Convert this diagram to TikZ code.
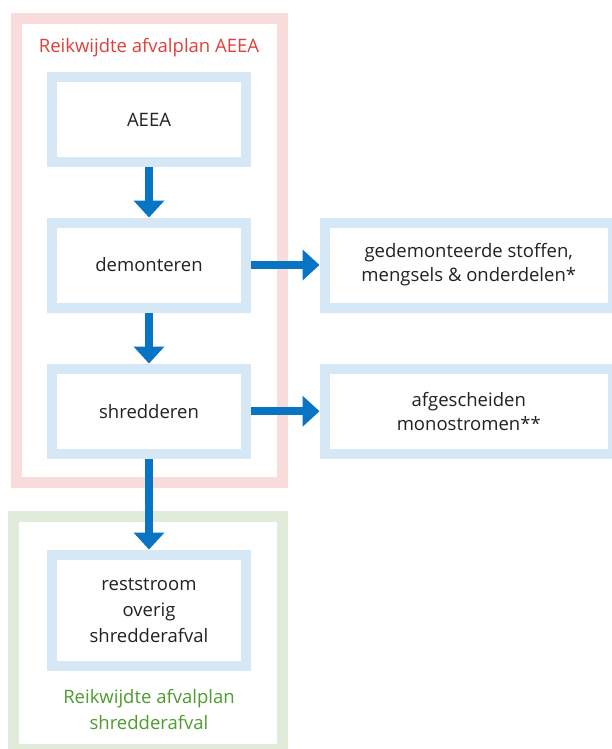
\documentclass[tikz,border=0pt]{standalone}
\usepackage{fontspec}
\setmainfont{Open Sans}
\usetikzlibrary{arrows.meta}
\definecolor{pinkframe}{HTML}{FADCDC}
\definecolor{greenframe}{HTML}{E0ECD9}
\definecolor{boxblue}{HTML}{D6E8F5}
\definecolor{arrowblue}{HTML}{0A74C4}
\definecolor{redtext}{HTML}{E0403C}
\definecolor{greentext}{HTML}{4E9C2D}
\definecolor{darktext}{HTML}{222222}
\tikzset{
  stepbox/.style={draw=boxblue, line width=10pt, fill=white, inner sep=0pt, align=center,
    text=darktext, font=\fontsize{18.5}{24}\selectfont},
  flow/.style={draw=arrowblue, line width=8pt, -{Triangle[width=30pt,length=17pt]}},
  frame/.style={line width=11pt},
}
\begin{document}
\begin{tikzpicture}[x=1pt,y=-1pt]
\useasboundingbox (0,0) rectangle (612,749);
\fill[white] (0,0) rectangle (612,749);
% scope frames
\draw[frame, draw=pinkframe] (16.5,18.5) rectangle (282.5,482.5);
\draw[frame, draw=greenframe] (13.5,516) rectangle (282.5,749.5);
\node[text=redtext, font=\fontsize{18.5}{24}\selectfont] (lblA) at (149,48) {Reikwijdte afvalplan AEEA};
\node[text=greentext, font=\fontsize{18.5}{26}\selectfont, align=center] (lblS) at (149,710) {Reikwijdte afvalplan\\shredderafval};
% boxes
\node[stepbox, minimum width=194pt, minimum height=84.5pt] (aeea) at (149,119.75) {AEEA};
\node[stepbox, minimum width=194pt, minimum height=85pt] (dem) at (149,265) {demonteren};
\node[stepbox, minimum width=194pt, minimum height=85.5pt] (shr) at (149,411.25) {shredderen};
\node[stepbox, minimum width=194pt, minimum height=111.5pt, font=\fontsize{18.5}{26}\selectfont] (rest) at (149,610.25) {reststroom\\overig\\shredderafval};
\node[stepbox, minimum width=288.5pt, minimum height=85pt] (gedem) at (468.75,265) {gedemonteerde stoffen,\\mengsels \& onderdelen*};
\node[stepbox, minimum width=288.5pt, minimum height=85.5pt] (afg) at (468.75,411.25) {afgescheiden\\monostromen**};
% connectors
\draw[flow] (aeea.south) -- (dem.north);
\draw[flow] (dem.south) -- (shr.north);
\draw[flow] (shr.south) -- (rest.north);
\draw[flow] (dem.east) -- (gedem.west);
\draw[flow] (shr.east) -- (afg.west);
\end{tikzpicture}
\end{document}
